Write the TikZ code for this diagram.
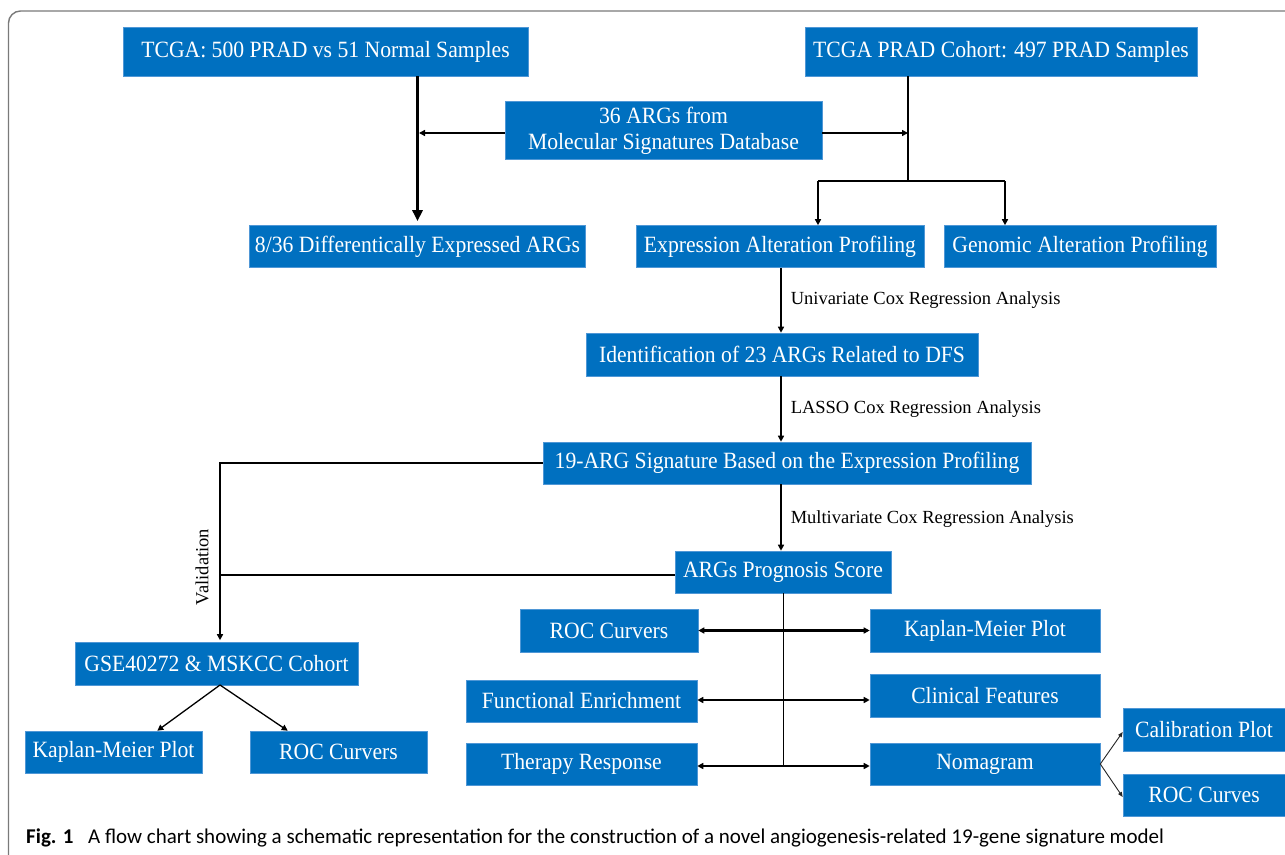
\documentclass[tikz,border=0pt]{standalone}
\usepackage{fontspec}
\setmainfont{Liberation Serif}
\newfontfamily\boxfont{Liberation Serif}[FakeStretch=0.93]
\newfontfamily\capfont{Carlito}
\usetikzlibrary{arrows.meta,calc}
\definecolor{boxblue}{HTML}{0070C0}
\definecolor{boxedge}{HTML}{4F97D6}
\definecolor{framegray}{HTML}{7A7A7A}
\newcommand\bx[6]{\node[box,minimum width=#4pt,minimum height=#5pt] (#1) at (#2,#3) {#6};}
\begin{document}
\begin{tikzpicture}[x=1pt,y=-1pt,
  box/.style={fill=boxblue, draw=boxedge, line width=0.6pt, text=white,
    font=\boxfont\fontsize{23.3}{26}\selectfont, inner sep=0pt, align=center},
  lbl/.style={font=\fontsize{18.5}{22}\selectfont, text=black, inner sep=0pt},
  con/.style={draw=black, line width=1.5pt},
  arr/.style={con, -{Triangle[length=6pt,width=6pt]}},
  bigarr/.style={draw=black, line width=2.6pt, -{Triangle[length=11pt,width=10pt]}},
  dbl/.style={draw=black, line width=2.4pt, {Triangle[length=6pt,width=6pt]}-{Triangle[length=6pt,width=6pt]}},
  fine/.style={draw=black!85, line width=0.9pt, -{Triangle[length=5pt,width=4pt]}},
]
\useasboundingbox (0,0) rectangle (1285,854);
\fill[white] (0,0) rectangle (1285,854);
% frame
\draw[framegray, line width=1.4pt, rounded corners=12pt] (8.5,870) -- (8.5,11) -- (1300,11);

% boxes
\bx{tcga}{325.5}{51.5}{405}{49}{TCGA: 500 PRAD vs 51 Normal Samples}
\bx{cohort}{1001}{51.5}{392}{49}{TCGA PRAD Cohort: 497 PRAD Samples}
\bx{msig}{663.5}{130.5}{317}{58}{36 ARGs from\\Molecular Signatures Database}
\bx{deg}{417.5}{246.5}{336}{42}{8/36 Differentically Expressed ARGs}
\bx{expr}{780}{246.5}{288}{42}{Expression Alteration Profiling}
\bx{geno}{1080}{246.5}{272}{42}{Genomic Alteration Profiling}
\bx{ident}{782}{354.5}{392}{43}{Identification of 23 ARGs Related to DFS}
\bx{sig}{787}{463}{488}{42}{19-ARG Signature Based on the Expression Profiling}
\bx{score}{783}{572}{216}{42}{ARGs Prognosis Score}
\bx{rocR}{609}{630.5}{178}{43}{ROC Curvers}
\bx{kmR}{985}{630.5}{230}{43}{Kaplan-Meier Plot}
\bx{func}{581.5}{701}{231}{42}{Functional Enrichment}
\bx{clin}{985}{695.5}{230}{43}{Clinical Features}
\bx{ther}{581.5}{764}{231}{42}{Therapy Response}
\bx{noma}{985}{764}{230}{42}{Nomagram}
\bx{calib}{1204}{729.5}{162}{43}{Calibration Plot}
\bx{rocC}{1204}{795}{162}{42}{ROC Curves}
\bx{gse}{216.5}{663.5}{283}{43}{GSE40272 \& MSKCC Cohort}
\bx{kmL}{113.5}{752}{177}{42}{Kaplan-Meier Plot}
\bx{rocL}{338.5}{752}{177}{42}{ROC Curvers}

% top-left
\draw[bigarr, shorten >=4pt] (tcga.south -| deg.north) -- (deg.north);
\draw[con, line width=1.9pt, -{Triangle[length=6pt,width=6pt]}] (msig.west |- 0,133) -- (419,133);
% top-right
\coordinate (cs) at (908,181);
\coordinate (ea) at (818,181);
\coordinate (ga) at (1005,181);
\draw[con, line width=1.9pt, -{Triangle[length=6pt,width=6pt]}] (msig.east |- 0,133) -- (cs |- 0,133);
\draw[con] (cohort.south -| cs) -- (cs);
\draw[con] (ea) -- (ga);
\draw[arr] (ea) -- (ea |- expr.north);
\draw[arr] (ga) -- (ga |- geno.north);

% main column
\draw[arr] (expr.south -| 781,0) -- (ident.north -| 781,0)
  node[lbl, midway, right, xshift=9pt] (l1) {Univariate Cox Regression Analysis};
\draw[arr] (ident.south -| 781,0) -- (sig.north -| 781,0)
  node[lbl, midway, right, xshift=9pt] (l2) {LASSO Cox Regression Analysis};
\draw[arr] (sig.south -| 781,0) -- (score.north -| 781,0)
  node[lbl, midway, right, xshift=9pt, yshift=-2pt] (l3) {Multivariate Cox Regression Analysis};

% score fan-out
\coordinate (sb) at (783,766);
\draw[con, line width=1pt] (score.south) -- (sb);
\draw[dbl] (rocR.east) -- (kmR.west);
\draw[dbl] (func.east |- 0,700) -- (clin.west |- 0,700);
\draw[dbl] (ther.east |- sb) -- (noma.west |- sb);

% nomagram
\draw[fine] (noma.east) -- (calib.west |- 0,732);
\draw[fine] (noma.east) -- (rocC.west |- 0,797);

% validation
\coordinate (vtop) at (220,463);
\draw[arr, shorten >=1.5pt] (sig.west) -- (vtop) -- (vtop |- gse.north);
\draw[con] (score.west |- 0,575) -- (vtop |- 0,575);
\node[lbl, rotate=90] (vlab) at (202,567) {Validation};

% gse children
\coordinate (gb) at (220,685);
\draw[arr, line width=1.3pt] (gb) -- ($(kmL.north east)+(-45,0)$);
\draw[arr, line width=1.3pt] (gb) -- ($(rocL.north west)+(38,0)$);

% caption
\node[anchor=base west, inner sep=0pt, font=\capfont\fontsize{21}{24}\selectfont\bfseries] (capfig) at (26,843) {Fig. 1};
\node[anchor=base west, inner sep=0pt, font=\capfont\fontsize{21}{24}\selectfont] (captxt) at (88,843) {A flow chart showing a schematic representation for the construction of a novel angiogenesis-related 19-gene signature model};
\end{tikzpicture}
\end{document}
